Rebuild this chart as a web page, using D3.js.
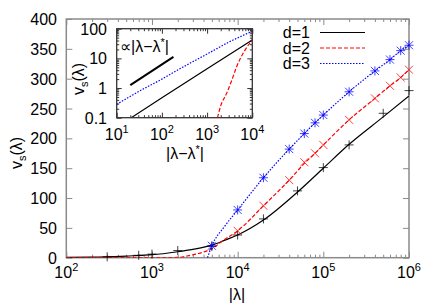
<!DOCTYPE html>
<html>
<head>
<meta charset="utf-8">
<script src="https://cdn.jsdelivr.net/npm/d3@7"></script>
<style>
  body { margin: 0; background: #fff; }
  text { font-family: "Liberation Sans", Arial, Helvetica, sans-serif; fill: #000; }
</style>
</head>
<body>
<div id="chart"></div>
<script>
// main panel: curves (lambda, v_s)
const lineLam1 = [100, 200, 500, 700, 1000, 2000, 3000, 5000, 7000, 1e4, 2e4, 5e4, 1e5, 2e5, 5e5, 1e6];
const lineV1   = [0.5, 1, 2.5, 4, 5, 10, 14, 21, 29, 38, 63, 110, 150, 190, 236, 271];
const lineLam2 = [100, 1000, 2000, 2800, 3500, 4300, 5000, 6800, 1e4, 2e4, 4e4, 6e4, 8e4, 1e5, 2e5, 4e5, 6e5, 8e5, 1e6];
const lineV2   = [0, 0, 0.5, 4, 7, 11, 15, 29, 45, 87, 130, 158, 175, 189, 231, 267, 288, 302, 315];
const lineLam3 = [4450, 4700, 5000, 7000, 1e4, 2e4, 4e4, 6e4, 8e4, 1e5, 2e5, 4e5, 6e5, 8e5, 1e6];
const lineV3   = [0, 10, 20, 52, 80, 134, 182, 208, 226, 239, 278, 313, 332, 347, 356];

// main panel: simulation points
const ptLam1 = [300, 700, 1000, 2000, 5000, 1e4, 2e4, 5e4, 1e5, 2e5, 5e5, 1e6];
const ptV1   = [1.5, 4, 6, 12, 19, 38, 65, 112, 151, 189, 242, 280];
const ptLam2 = [1e4, 2e4, 4e4, 6e4, 8e4, 1e5, 2e5, 4e5, 6e5, 8e5, 1e6];
const ptV2   = [45, 87, 130, 160, 175, 189, 231, 267, 288, 302, 315];
const ptLam3 = [5000, 1e4, 2e4, 4e4, 6e4, 8e4, 1e5, 2e5, 4e5, 6e5, 8e5, 1e6];
const ptV3   = [20, 80, 134, 182, 208, 226, 239, 278, 313, 332, 347, 356];

// inset: |lambda - lambda*| vs v_s
const inU1 = [21, 100, 1000, 10000];
const inV1 = [0.1, 0.47, 4.5, 42];
const inU2 = [1700, 2000, 2700, 3500, 4500, 6900, 10000];
const inV2 = [0.1, 0.25, 0.66, 1.8, 5.2, 19, 41];
const inU3 = [10, 30, 100, 300, 1000, 3000, 10000];
const inV3 = [0.28, 0.75, 2.0, 5.2, 14, 35, 82];
const refU = [20, 180];
const refV = [1.26, 11.3];

const yTicks = [0, 50, 100, 150, 200, 250, 300, 350, 400];
const xExp = [2, 3, 4, 5, 6];
const inXExp = [1, 2, 3, 4];
const inYTicks = [0.1, 1, 10, 100];
const inYLabels = ["0.1", "1", "10", "100"];
const legendNames = ["d=1", "d=2", "d=3"];

const colors = ["#000000", "#ff0000", "#0000ff"];
const dashes = [null, "4,2", "1.5,1.5"];

const width = 436, height = 305;
const svg = d3.select("#chart").append("svg")
    .attr("width", width).attr("height", height);

const x = d3.scaleLog().domain([1e2, 1e6]).range([66.3, 409]);
const y = d3.scaleLinear().domain([0, 400]).range([257.7, 19]);

const zip = (a, b) => a.map((d, i) => [d, b[i]]);
const frameColor = "#8a8a8a";

// minor ticks for log axes
function logMinors(lo, hi) {
    const out = [];
    for (let e = lo; e < hi; e++)
        for (let k = 2; k <= 9; k++) out.push(k * Math.pow(10, e));
    return out;
}

// ----- main axes -----
const main = svg.append("g");
main.append("defs").append("clipPath").attr("id", "mainClip")
    .append("rect").attr("x", 66.3).attr("y", 19).attr("width", 409 - 66.3).attr("height", 257.7 - 19);

const styleAxis = (g, col) => {
    g.select(".domain").remove();
    g.selectAll("line").attr("stroke", col).attr("stroke-width", 1);
};

main.append("g").attr("transform", "translate(0,257.7)")
    .call(d3.axisBottom(x).tickValues(xExp.map(e => Math.pow(10, e))).tickSize(-6).tickFormat(""))
    .call(g => styleAxis(g, frameColor));
main.append("g").attr("transform", "translate(0,257.7)")
    .call(d3.axisBottom(x).tickValues(logMinors(2, 6)).tickSize(-3).tickFormat(""))
    .call(g => styleAxis(g, frameColor));
main.append("g").attr("transform", "translate(0,19)")
    .call(d3.axisTop(x).tickValues(xExp.map(e => Math.pow(10, e))).tickSize(-6).tickFormat(""))
    .call(g => styleAxis(g, frameColor));
main.append("g").attr("transform", "translate(0,19)")
    .call(d3.axisTop(x).tickValues(logMinors(2, 6)).tickSize(-3).tickFormat(""))
    .call(g => styleAxis(g, frameColor));
main.append("g").attr("transform", "translate(66.3,0)")
    .call(d3.axisLeft(y).tickValues(yTicks).tickSize(-6).tickFormat(""))
    .call(g => styleAxis(g, frameColor));
main.append("g").attr("transform", "translate(409,0)")
    .call(d3.axisRight(y).tickValues(yTicks).tickSize(-6).tickFormat(""))
    .call(g => styleAxis(g, frameColor));

main.append("rect").attr("x", 66.3).attr("y", 19)
    .attr("width", 409 - 66.3).attr("height", 257.7 - 19)
    .attr("fill", "none").attr("stroke", frameColor).attr("stroke-width", 1.5);

// y tick labels
main.selectAll(".ylab").data(yTicks).enter().append("text")
    .attr("x", 57).attr("y", d => y(d) + 6)
    .attr("text-anchor", "end").attr("font-size", 16)
    .text(d => d);

// x tick labels 10^n
xExp.forEach(e => {
    const t = main.append("text").attr("x", x(Math.pow(10, e))).attr("y", 278)
        .attr("text-anchor", "middle").attr("font-size", 16);
    t.append("tspan").text("10");
    t.append("tspan").attr("dy", -7).attr("font-size", 11).text(e);
});

// axis titles
main.append("text").attr("x", 237).attr("y", 300).attr("text-anchor", "middle")
    .attr("font-size", 16).text("|λ|");
const yt = main.append("text").attr("transform", "translate(22,153) rotate(-90)")
    .attr("text-anchor", "middle").attr("font-size", 16);
yt.append("tspan").text("v");
yt.append("tspan").attr("dy", 4).attr("font-size", 11).text("s");
yt.append("tspan").attr("dy", -4).text("(λ)");

// curves
const lineMain = d3.line().x(d => x(d[0])).y(d => y(d[1])).curve(d3.curveMonotoneX);
const curves = [zip(lineLam1, lineV1), zip(lineLam2, lineV2), zip(lineLam3, lineV3)];
const plotG = main.append("g").attr("clip-path", "url(#mainClip)");
curves.forEach((c, i) => {
    plotG.append("path").datum(c).attr("d", lineMain)
        .attr("fill", "none").attr("stroke", colors[i]).attr("stroke-width", 1.2)
        .attr("stroke-dasharray", dashes[i]);
});

// point symbols
const symPlus = "M-4.5,0H4.5M0,-4.5V4.5";
const symCross = "M-4,-4L4,4M-4,4L4,-4";
const symbols = [symPlus, symCross, symPlus + symCross];
const points = [zip(ptLam1, ptV1), zip(ptLam2, ptV2), zip(ptLam3, ptV3)];
points.forEach((p, i) => {
    main.append("g").selectAll("path").data(p).enter().append("path")
        .attr("transform", d => "translate(" + x(d[0]) + "," + y(d[1]) + ")")
        .attr("d", symbols[i])
        .attr("fill", "none").attr("stroke", colors[i]).attr("stroke-width", 1)
        .attr("stroke-opacity", 0.75);
});

// legend
legendNames.forEach((n, i) => {
    const ly = 32.5 + i * 15.5;
    main.append("text").attr("x", 310).attr("y", ly + 5.8)
        .attr("text-anchor", "end").attr("font-size", 16).text(n);
    main.append("line").attr("x1", 320).attr("x2", 365).attr("y1", ly).attr("y2", ly)
        .attr("stroke", colors[i]).attr("stroke-width", 1.2)
        .attr("stroke-dasharray", dashes[i]);
});

// ----- inset -----
const xi = d3.scaleLog().domain([10, 1e4]).range([116.7, 252.3]);
const yi = d3.scaleLog().domain([0.1, 100]).range([117.7, 28.7]);
const inset = svg.append("g");
const inColor = "#333";

inset.append("rect").attr("x", 116.7).attr("y", 28.7)
    .attr("width", 252.3 - 116.7).attr("height", 117.7 - 28.7).attr("fill", "#fff");
inset.append("defs").append("clipPath").attr("id", "inClip")
    .append("rect").attr("x", 116.7).attr("y", 28.7)
    .attr("width", 252.3 - 116.7).attr("height", 117.7 - 28.7);

const inMaj = inXExp.map(e => Math.pow(10, e));
inset.append("g").attr("transform", "translate(0,117.7)")
    .call(d3.axisBottom(xi).tickValues(inMaj).tickSize(-5).tickFormat(""))
    .call(g => styleAxis(g, inColor));
inset.append("g").attr("transform", "translate(0,117.7)")
    .call(d3.axisBottom(xi).tickValues(logMinors(1, 4)).tickSize(-2.5).tickFormat(""))
    .call(g => styleAxis(g, inColor));
inset.append("g").attr("transform", "translate(0,28.7)")
    .call(d3.axisTop(xi).tickValues(inMaj).tickSize(-5).tickFormat(""))
    .call(g => styleAxis(g, inColor));
inset.append("g").attr("transform", "translate(0,28.7)")
    .call(d3.axisTop(xi).tickValues(logMinors(1, 4)).tickSize(-2.5).tickFormat(""))
    .call(g => styleAxis(g, inColor));
inset.append("g").attr("transform", "translate(116.7,0)")
    .call(d3.axisLeft(yi).tickValues(inYTicks).tickSize(-5).tickFormat(""))
    .call(g => styleAxis(g, inColor));
inset.append("g").attr("transform", "translate(116.7,0)")
    .call(d3.axisLeft(yi).tickValues(logMinors(-1, 2)).tickSize(-2.5).tickFormat(""))
    .call(g => styleAxis(g, inColor));
inset.append("g").attr("transform", "translate(252.3,0)")
    .call(d3.axisRight(yi).tickValues(inYTicks).tickSize(-5).tickFormat(""))
    .call(g => styleAxis(g, inColor));
inset.append("g").attr("transform", "translate(252.3,0)")
    .call(d3.axisRight(yi).tickValues(logMinors(-1, 2)).tickSize(-2.5).tickFormat(""))
    .call(g => styleAxis(g, inColor));

const lineIn = d3.line().x(d => xi(d[0])).y(d => yi(d[1])).curve(d3.curveMonotoneX);
const inG = inset.append("g").attr("clip-path", "url(#inClip)");
[zip(inU1, inV1), zip(inU2, inV2), zip(inU3, inV3)].forEach((c, i) => {
    inG.append("path").datum(c).attr("d", lineIn)
        .attr("fill", "none").attr("stroke", colors[i]).attr("stroke-width", 1.2)
        .attr("stroke-dasharray", dashes[i]);
});
inG.append("path").datum(zip(refU, refV)).attr("d", lineIn)
    .attr("fill", "none").attr("stroke", "#000").attr("stroke-width", 2);

inset.append("rect").attr("x", 116.7).attr("y", 28.7)
    .attr("width", 252.3 - 116.7).attr("height", 117.7 - 28.7)
    .attr("fill", "none").attr("stroke", inColor).attr("stroke-width", 1.3);

// inset labels
inset.selectAll(".iyl").data(inYTicks).enter().append("text")
    .attr("x", 107).attr("y", d => yi(d) + 6)
    .attr("text-anchor", "end").attr("font-size", 16)
    .text((d, i) => inYLabels[i]);
inXExp.forEach(e => {
    const t = inset.append("text").attr("x", xi(Math.pow(10, e))).attr("y", 139.5)
        .attr("text-anchor", "middle").attr("font-size", 16);
    t.append("tspan").text("10");
    t.append("tspan").attr("dy", -7).attr("font-size", 11).text(e);
});
const ixt = inset.append("text").attr("x", 185).attr("y", 159)
    .attr("text-anchor", "middle").attr("font-size", 16);
ixt.append("tspan").text("|λ−λ");
ixt.append("tspan").attr("dy", -6).attr("font-size", 11).text("*");
ixt.append("tspan").attr("dy", 6).text("|");

const iyt = inset.append("text").attr("transform", "translate(84,79) rotate(-90)")
    .attr("text-anchor", "middle").attr("font-size", 16);
iyt.append("tspan").text("v");
iyt.append("tspan").attr("dy", 4).attr("font-size", 11).text("s");
iyt.append("tspan").attr("dy", -4).text("(λ)");

const prop = inset.append("text").attr("x", 120).attr("y", 52).attr("font-size", 16);
prop.append("tspan").text("∝|λ−λ");
prop.append("tspan").attr("dy", -6).attr("font-size", 11).text("*");
prop.append("tspan").attr("dy", 6).text("|");
</script>
</body>
</html>
